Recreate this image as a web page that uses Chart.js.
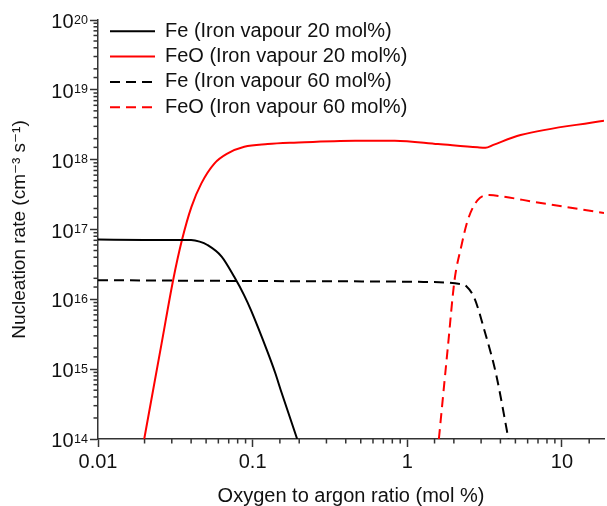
<!DOCTYPE html>
<html>
<head>
<meta charset="utf-8">
<script src="https://cdn.jsdelivr.net/npm/chart.js@4"></script>
<style>
  body { margin: 0; background: #fff; }
</style>
</head>
<body>
<canvas id="myChart" width="607" height="506"></canvas>
<script>
// Fe, iron vapour 20 mol%
var fe20X = [0.01, 0.02, 0.04, 0.0454, 0.051, 0.063, 0.076, 0.088, 0.0975, 0.125, 0.14, 0.152, 0.194];
var fe20Y = [7.2e16, 7.1e16, 7.05e16, 6.7e16, 6.0e16, 4.1e16, 2.1e16, 1.15e16, 7.0e15, 1.75e15, 8.8e14, 5.0e14, 1e14];

// FeO, iron vapour 20 mol%
var feo20X = [0.0199, 0.0258, 0.0306, 0.0349, 0.0402, 0.0466, 0.0567, 0.069, 0.0883, 0.125, 0.185, 0.46, 0.83, 1.58, 2.85, 3.2, 3.6, 5.4, 18.7];
var feo20Y = [1e14, 2.36e15, 1.88e16, 7.05e16, 2.11e17, 4.57e17, 8.85e17, 1.23e18, 1.53e18, 1.67e18, 1.75e18, 1.87e18, 1.87e18, 1.67e18, 1.5e18, 1.48e18, 1.63e18, 2.25e18, 3.62e18];

// Fe, iron vapour 60 mol%
var fe60X = [0.01, 0.185, 1.18, 2.23, 2.4, 2.72, 3.15, 3.74, 4.51];
var fe60Y = [1.88e16, 1.82e16, 1.78e16, 1.65e16, 1.55e16, 1.03e16, 3.6e15, 8.7e14, 1e14];

// FeO, iron vapour 60 mol%
var feo60X = [1.6, 1.83, 2.02, 2.23, 2.46, 2.85, 3.39, 4.24, 6.6, 18.7];
var feo60Y = [1e14, 2.1e15, 1.88e16, 5.65e16, 1.36e17, 2.64e17, 3.11e17, 2.94e17, 2.49e17, 1.72e17];

var seriesLabels = ['Fe (Iron vapour 20 mol%)', 'FeO (Iron vapour 20 mol%)', 'Fe (Iron vapour 60 mol%)', 'FeO (Iron vapour 60 mol%)'];

var xTickValues = [0.01, 0.1, 1, 10];
var xTickLabels = ['0.01', '0.1', '1', '10'];
var yTickExponents = [14, 15, 16, 17, 18, 19, 20];

var chartFont = "'Liberation Sans', Arial, 'DejaVu Sans', sans-serif";
var textColor = '#111';
var axisColor = '#333';

function isMajor(v) {
    var l = Math.log10(v);
    return Math.abs(l - Math.round(l)) < 1e-6;
}

function toPoints(xs, ys) {
    return xs.map(function(x, i) { return { x: x, y: ys[i] }; });
}

// petits traits de graduation + étiquettes 10^n
var axisExtras = {
    id: 'axisExtras',
    afterLayout: function(chart) {
        // légende dans le coin haut gauche de la zone de tracé
        chart.legend.left = chart.chartArea.left + 6.7;
        chart.legend.top = chart.chartArea.top - 4;
    },
    afterDraw: function(chart) {
        var ctx = chart.ctx;
        var area = chart.chartArea;
        var xs = chart.scales.x;
        var ys = chart.scales.y;
        ctx.save();
        ctx.strokeStyle = axisColor;
        ctx.lineWidth = 1.5;
        xs.ticks.forEach(function(t) {
            if (isMajor(t.value) || t.value >= xs.max) return;
            var px = xs.getPixelForValue(t.value);
            ctx.beginPath();
            ctx.moveTo(px, area.bottom);
            ctx.lineTo(px, area.bottom + 4.5);
            ctx.stroke();
        });
        ys.ticks.forEach(function(t) {
            if (isMajor(t.value)) return;
            var py = ys.getPixelForValue(t.value);
            ctx.beginPath();
            ctx.moveTo(area.left, py);
            ctx.lineTo(area.left - 4.5, py);
            ctx.stroke();
        });

        ctx.fillStyle = textColor;
        ctx.textBaseline = 'alphabetic';
        yTickExponents.forEach(function(e) {
            var py = ys.getPixelForValue(Math.pow(10, e));
            var sup = String(e);
            var right = area.left - 10;
            ctx.font = '12.5px ' + chartFont;
            var supW = ctx.measureText(sup).width;
            ctx.textAlign = 'left';
            ctx.fillText(sup, right - supW, py + 3.5);
            ctx.font = '20px ' + chartFont;
            ctx.textAlign = 'right';
            ctx.fillText('10', right - supW - 0.5, py + 8);
        });
        ctx.restore();
    }
};

var ctx = document.getElementById('myChart').getContext('2d');
var myChart = new Chart(ctx, {
    type: 'line',
    data: {
        datasets: [{
            label: seriesLabels[0],
            data: toPoints(fe20X, fe20Y),
            borderColor: '#000000',
            borderWidth: 2
        }, {
            label: seriesLabels[1],
            data: toPoints(feo20X, feo20Y),
            borderColor: '#ff0000',
            borderWidth: 2
        }, {
            label: seriesLabels[2],
            data: toPoints(fe60X, fe60Y),
            borderColor: '#000000',
            borderWidth: 2,
            borderDash: [10, 6]
        }, {
            label: seriesLabels[3],
            data: toPoints(feo60X, feo60Y),
            borderColor: '#ff0000',
            borderWidth: 2,
            borderDash: [10, 6]
        }]
    },
    options: {
        responsive: false,
        animation: false,
        layout: { padding: { left: 0, right: 0, top: 20, bottom: 0 } },
        elements: {
            point: { radius: 0 },
            line: { cubicInterpolationMode: 'monotone', fill: false }
        },
        plugins: {
            tooltip: { enabled: false },
            legend: {
                position: 'chartArea',
                align: 'start',
                labels: {
                    usePointStyle: true,
                    pointStyle: 'line',
                    pointStyleWidth: 45,
                    padding: 5.3,
                    color: textColor,
                    font: { family: chartFont, size: 20 },
                    generateLabels: function(chart) {
                        var items = Chart.defaults.plugins.legend.labels.generateLabels(chart);
                        items.forEach(function(item) {
                            var ds = chart.data.datasets[item.datasetIndex];
                            item.lineDash = ds.borderDash || [];
                            item.lineWidth = ds.borderWidth;
                            item.strokeStyle = ds.borderColor;
                        });
                        return items;
                    }
                }
            }
        },
        scales: {
            x: {
                type: 'logarithmic',
                position: 'bottom',
                min: 0.01,
                max: 18.7,
                afterFit: function(scale) { scale.height = 67; },
                border: { display: true, color: axisColor, width: 1.5 },
                grid: {
                    drawOnChartArea: false,
                    tickLength: 8,
                    tickWidth: 1.5,
                    tickColor: function(c) { return c.tick && isMajor(c.tick.value) ? axisColor : 'rgba(0,0,0,0)'; }
                },
                ticks: {
                    autoSkip: false,
                    maxRotation: 0,
                    padding: 3,
                    color: textColor,
                    font: { family: chartFont, size: 20 },
                    callback: function(value) {
                        for (var i = 0; i < xTickValues.length; i++) {
                            if (Math.abs(Math.log10(value) - Math.log10(xTickValues[i])) < 1e-6) return xTickLabels[i];
                        }
                        return '';
                    }
                },
                title: {
                    display: true,
                    text: 'Oxygen to argon ratio (mol %)',
                    color: textColor,
                    font: { family: chartFont, size: 20, lineHeight: 1 },
                    padding: { top: 0, bottom: 0 }
                }
            },
            y: {
                type: 'logarithmic',
                position: 'left',
                min: 1e14,
                max: 1e20,
                afterFit: function(scale) { scale.width = 98; },
                border: { display: true, color: axisColor, width: 1.5 },
                grid: {
                    drawOnChartArea: false,
                    tickLength: 8,
                    tickWidth: 1.5,
                    tickColor: function(c) { return c.tick && isMajor(c.tick.value) ? axisColor : 'rgba(0,0,0,0)'; }
                },
                ticks: { display: false, autoSkip: false },
                title: {
                    display: true,
                    text: 'Nucleation rate (cm⁻³ s⁻¹)',
                    color: textColor,
                    font: { family: chartFont, size: 19, lineHeight: 1 },
                    padding: { top: 10.5, bottom: 0 }
                }
            }
        }
    },
    plugins: [axisExtras]
});
</script>
</body>
</html>
